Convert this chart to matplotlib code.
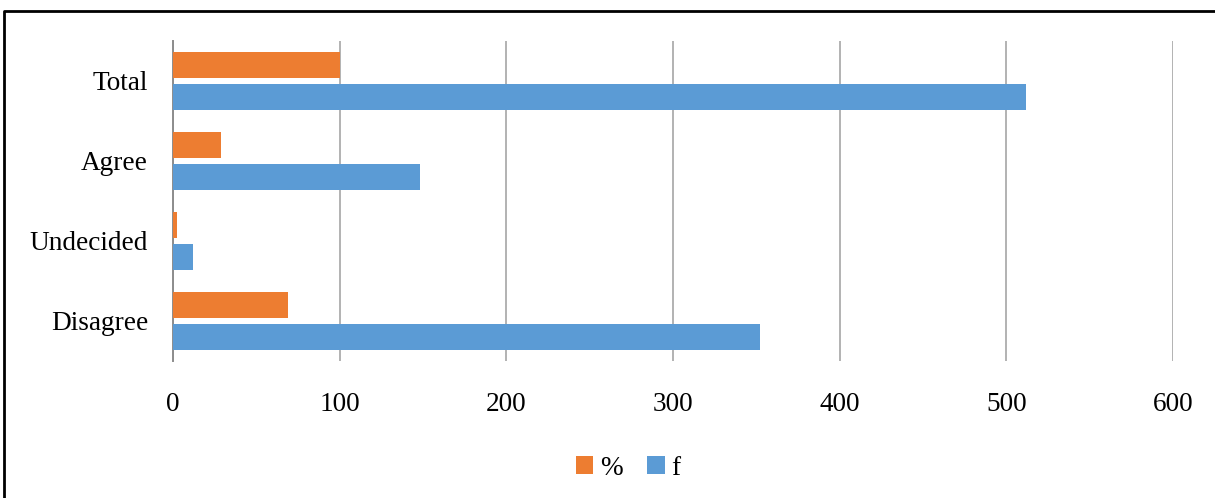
import matplotlib
matplotlib.use("Agg")
import matplotlib.pyplot as plt
from matplotlib.lines import Line2D
from matplotlib.patches import Patch
import numpy as np

categories = ["Disagree", "Undecided", "Agree", "Total"]
pct_values = [68.75, 2.34, 28.91, 100]
f_values = [352, 12, 148, 512]
x_ticks = [0, 100, 200, 300, 400, 500, 600]

orange = "#ED7D31"
blue = "#5B9BD5"

plt.rcParams["font.family"] = ["Liberation Serif", "DejaVu Serif"]

fig = plt.figure(figsize=(12.15, 4.98), dpi=100)
ax = fig.add_axes([0.1424, 0.2751, 0.823, 0.6426])

y = np.arange(len(categories))
offset = 0.206
height = 0.325
ax.barh(y + offset, pct_values, height=height, color=orange, zorder=3)
ax.barh(y - offset, f_values, height=height, color=blue, zorder=3)

ax.set_xlim(0, 600)
ax.set_ylim(-0.5, len(categories) - 0.5)
ax.set_xticks(x_ticks)
ax.set_yticks(y)
ax.set_yticklabels(categories)
ax.tick_params(axis="both", length=0, labelsize=19.6)
ax.tick_params(axis="x", pad=22)
ax.tick_params(axis="y", pad=18)

ax.grid(axis="x", color="#A6A6A6", linewidth=1.2, zorder=0)
for side in ["top", "right", "bottom"]:
    ax.spines[side].set_visible(False)
ax.spines["left"].set_color("#8C8C8C")
ax.spines["left"].set_linewidth(1.4)

handles = [Patch(facecolor=orange, label="%"), Patch(facecolor=blue, label="f")]
fig.legend(handles=handles, loc="center", bbox_to_anchor=(0.517, 0.06), ncol=2,
           frameon=False, fontsize=19.6, handlelength=0.65, handleheight=0.65,
           handletextpad=0.25, columnspacing=0.9)

# outer frame (top and left edges)
fig.add_artist(Line2D([0.0033, 0.0033, 1.0], [0.0, 0.978, 0.978],
                      transform=fig.transFigure, color="black", linewidth=2))

fig.savefig("out.png", dpi=100)
